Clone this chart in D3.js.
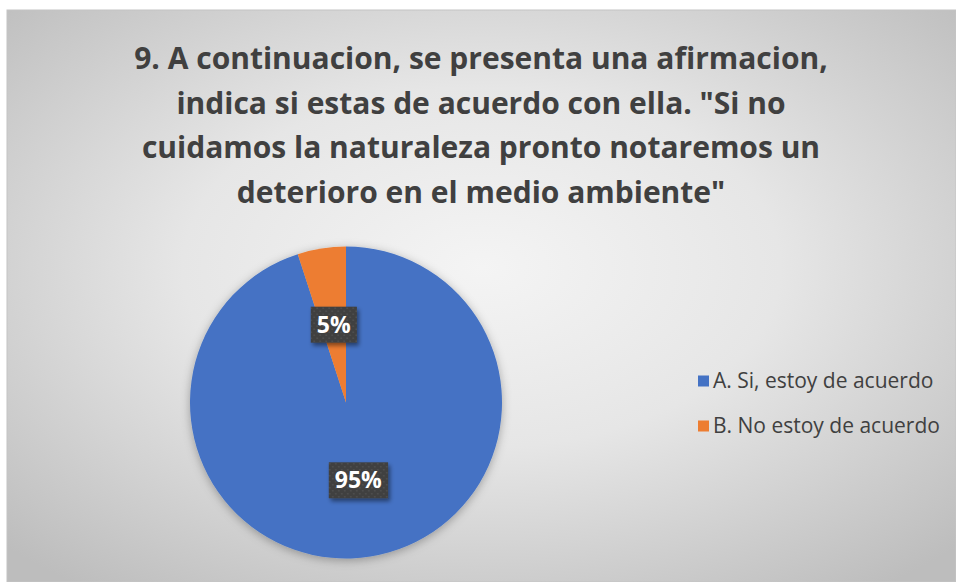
<!DOCTYPE html>
<html>
<head>
<meta charset="utf-8">
<script src="https://cdn.jsdelivr.net/npm/d3@7"></script>
<style>
  body { margin: 0; background: #fff; }
  svg { display: block; }
</style>
</head>
<body>
<svg id="chart"></svg>
<script>
// data
const categories = ["A. Si, estoy de acuerdo", "B. No estoy de acuerdo"];
const values = [95, 5];
const labels = ["95%", "5%"];
const colors = ["#4472C4", "#ED7D31"];
const titleLines = [
  "9. A continuacion, se presenta una afirmacion,",
  "indica si estas de acuerdo con ella. \"Si no",
  "cuidamos la naturaleza pronto notaremos un",
  "deterioro en el medio ambiente\""
];

const W = 956, H = 582;
const font = "'Open Sans', 'Noto Sans', sans-serif";
const svg = d3.select("#chart").attr("width", W).attr("height", H);
const defs = svg.append("defs");

// radial background
const bg = defs.append("radialGradient").attr("id", "bg")
  .attr("cx", "50%").attr("cy", "45%").attr("r", "70%");
bg.append("stop").attr("offset", "0%").attr("stop-color", "#f4f4f4");
bg.append("stop").attr("offset", "45%").attr("stop-color", "#e6e6e6");
bg.append("stop").attr("offset", "100%").attr("stop-color", "#bdbdbd");

// soft shadow
const sh = defs.append("filter").attr("id", "shadow")
  .attr("x", "-20%").attr("y", "-20%").attr("width", "140%").attr("height", "140%");
sh.append("feDropShadow").attr("dx", 0).attr("dy", 2).attr("stdDeviation", 5)
  .attr("flood-color", "#000").attr("flood-opacity", 0.3);

const sh2 = defs.append("filter").attr("id", "lblshadow")
  .attr("x", "-30%").attr("y", "-30%").attr("width", "160%").attr("height", "160%");
sh2.append("feDropShadow").attr("dx", 2).attr("dy", 3).attr("stdDeviation", 2)
  .attr("flood-color", "#000").attr("flood-opacity", 0.45);

// dotted label pattern
const pat = defs.append("pattern").attr("id", "dots")
  .attr("width", 6).attr("height", 6).attr("patternUnits", "userSpaceOnUse");
pat.append("rect").attr("width", 6).attr("height", 6).attr("fill", "#3f3f3f");
pat.append("circle").attr("cx", 1.5).attr("cy", 1.5).attr("r", 0.8).attr("fill", "#5a5a5a");
pat.append("circle").attr("cx", 4.5).attr("cy", 4.5).attr("r", 0.8).attr("fill", "#5a5a5a");

// chart area
svg.append("rect")
  .attr("x", 7).attr("y", 10).attr("width", W - 7).attr("height", H - 10)
  .attr("fill", "url(#bg)")
  .attr("stroke", "#c4c4c4").attr("stroke-width", 1);

// title
svg.append("g").selectAll("text")
  .data(titleLines)
  .join("text")
    .attr("x", 481)
    .attr("y", (d, i) => 69 + i * 44.7)
    .attr("text-anchor", "middle")
    .style("font-family", font)
    .style("font-weight", "bold")
    .style("font-size", "30px")
    .style("fill", "#404040")
    .text(d => d);

// pie
const cx = 346, cy = 402.5, r = 156;
const pie = d3.pie().sort(null).value(d => d);
const arcs = pie(values);
const arc = d3.arc().innerRadius(0).outerRadius(r);

const g = svg.append("g").attr("transform", `translate(${cx},${cy})`);
g.append("g").attr("filter", "url(#shadow)")
  .selectAll("path")
  .data(arcs)
  .join("path")
    .attr("d", arc)
    .attr("fill", (d, i) => colors[i]);

// data labels
const labelArc = d3.arc().innerRadius(0).outerRadius(r * 1.01);
const lg = g.append("g").selectAll("g")
  .data(arcs)
  .join("g")
    .attr("transform", d => `translate(${labelArc.centroid(d)})`);

lg.append("text")
  .attr("text-anchor", "middle")
  .attr("dy", "0.35em")
  .style("font-family", font)
  .style("font-weight", "bold")
  .style("font-size", "23px")
  .style("fill", "#fff")
  .text((d, i) => labels[i]);

lg.each(function () {
  const t = d3.select(this).select("text");
  const b = t.node().getBBox();
  d3.select(this).insert("rect", "text")
    .attr("x", b.x - 6).attr("y", -18)
    .attr("width", b.width + 12).attr("height", 36)
    .attr("fill", "url(#dots)")
    .attr("filter", "url(#lblshadow)");
});

// legend
const legend = svg.append("g").attr("transform", "translate(698,381)");
const item = legend.selectAll("g")
  .data(categories)
  .join("g")
    .attr("transform", (d, i) => `translate(0,${i * 45})`);
item.append("rect")
  .attr("x", 0).attr("y", -5.5).attr("width", 11).attr("height", 11)
  .attr("fill", (d, i) => colors[i]);
item.append("text")
  .attr("x", 15).attr("dy", "0.35em")
  .style("font-family", font)
  .style("font-size", "21px")
  .style("fill", "#404040")
  .text(d => d);
</script>
</body>
</html>
